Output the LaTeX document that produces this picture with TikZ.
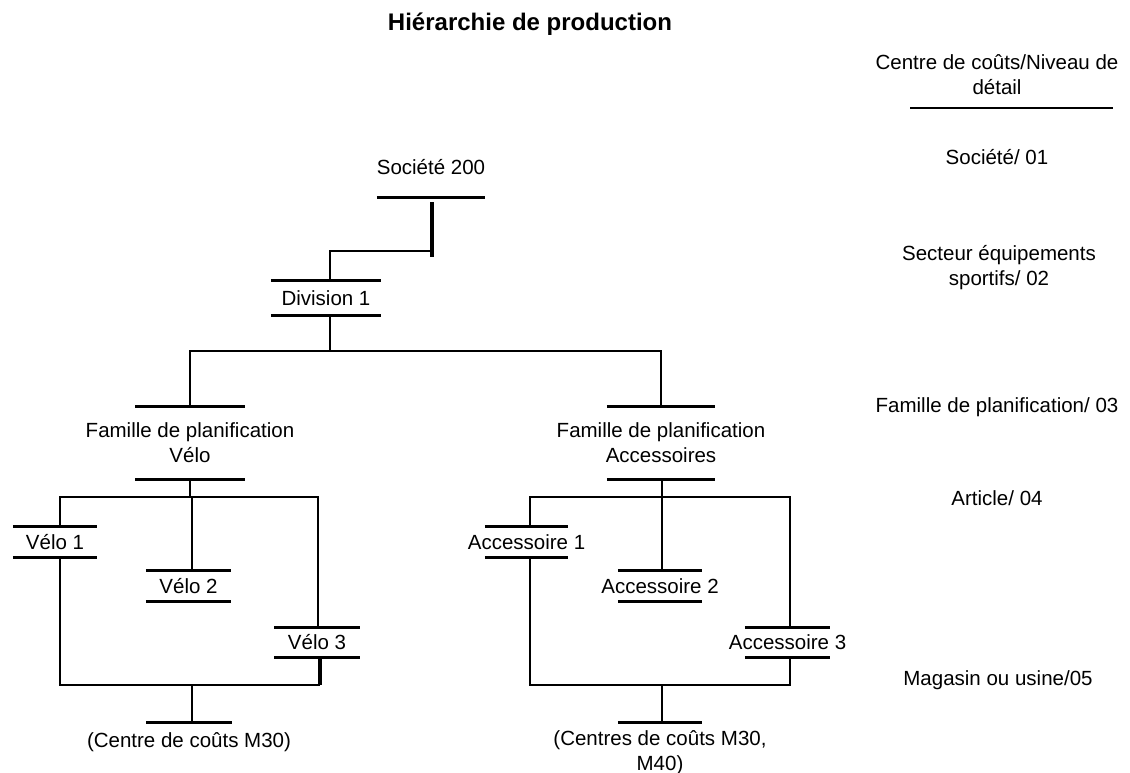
\documentclass[tikz,border=0pt]{standalone}
\usepackage{fontspec}
\setmainfont{Liberation Sans}
\usetikzlibrary{calc}
% zero-width box: the label is centred on its bars and may overhang them
\newcommand\zw[1]{\makebox[0pt]{#1}}
\begin{document}
\begin{tikzpicture}[x=1pt,y=-1pt,
  every node/.style={font=\fontsize{20.5}{25}\selectfont, inner sep=0pt, align=center},
  heading/.style={font=\fontsize{24}{28}\selectfont\bfseries},
  link/.style={line width=2.9pt},
  heavy/.style={line width=4.2pt},
  unit/.style 2 args={minimum width=#1, minimum height=#2},
  tbar/.style={append after command={(\tikzlastnode.north west) edge[link] (\tikzlastnode.north east)}},
  bbar/.style={append after command={(\tikzlastnode.south west) edge[link] (\tikzlastnode.south east)}},
]
\useasboundingbox (0,0) rectangle (1130,773);

% title
\node[heading] (title) at (530,24) {Hiérarchie de production};

% level column
\node (hdr) at (997,75) {Centre de coûts/Niveau de\\détail};
\draw[link] (910,108) -- (1113,108);
\node (lv1) at (997,157) {Société/ 01};
\node (lv2) at (999,268) {Secteur équipements\\sportifs/ 02};
\node (lv3) at (997,407) {Famille de planification/ 03};
\node (lv4) at (997,498) {Article/ 04};
\node (lv5) at (998,680) {Magasin ou usine/05};

% company and division
\node[unit={108}{60}, bbar] (soc) at (431,167) {\zw{Société 200}};
\node[unit={110}{34}, tbar, bbar] (div) at (326,298) {\zw{Division 1}};

% planning families
\node[unit={109}{72}, tbar, bbar] (fv) at (190,443) {\zw{Famille de planification}\\\zw{Vélo}};
\node[unit={108}{72}, tbar, bbar] (fa) at (661,443) {\zw{Famille de planification}\\\zw{Accessoires}};

% items
\node[unit={84}{30}, tbar, bbar] (v1) at (55,542) {\zw{Vélo 1}};
\node[unit={85}{30}, tbar, bbar] (v2) at (188.5,586) {\zw{Vélo 2}};
\node[unit={85}{29}, tbar, bbar] (v3) at (317,642.5) {\zw{Vélo 3}};
\node[unit={83}{30}, tbar, bbar] (a1) at (526.5,542) {\zw{Accessoire 1}};
\node[unit={84}{30}, tbar, bbar] (a2) at (660,586) {\zw{Accessoire 2}};
\node[unit={85}{29}, tbar, bbar] (a3) at (787.5,642.5) {\zw{Accessoire 3}};

% cost centres
\node[unit={85}{38}, tbar] (cc1) at (189,742) {\zw{(Centre de coûts M30)}};
\node[unit={84}{59}, tbar] (cc2) at (660,752.5) {\zw{(Centres de coûts M30,}\\\zw{M40)}};

% junction points of the tree
\coordinate (sj) at (432,251);
\coordinate (dj) at (330,351);
\coordinate (vj) at (191,497);
\coordinate (vb) at (192,685);
\coordinate (aj) at (662,497);
\coordinate (ab) at (662,685);

% company -> division
\draw[heavy] ($(soc.south)+(1,5)$) -- ($(sj)+(0,6)$);
\draw[link] (sj) -| ([xshift=4pt]div.north);

% division -> families
\draw[link] ([xshift=4pt]div.south) -- (dj);
\draw[link] (fv.north) -- (fv.north |- dj) -- (fa.north |- dj) -- (fa.north);

% bicycle family
\draw[link] (fv.south) -- (fv.south |- vj);
\draw[link] ([xshift=5pt]v1.north) -- ([xshift=5pt]v1.north |- vj) -- ([xshift=1pt]v3.north |- vj) -- ([xshift=1pt]v3.north);
\draw[link] ([xshift=3.5pt]v2.north) -- ([xshift=3.5pt]v2.north |- vj);
\draw[link] ([xshift=5pt]v1.south) -- ([xshift=5pt]v1.south |- vb) -- ([xshift=3pt]v3.south |- vb);
\draw[heavy] ([xshift=3pt]v3.south) -- ([xshift=3pt]v3.south |- vb);
\draw[link] (vb) -- ([xshift=3pt]cc1.north);

% accessories family
\draw[link] ([xshift=1pt]fa.south) -- (aj);
\draw[link] ([xshift=3.5pt]a1.north) -- ([xshift=3.5pt]a1.north |- aj) -- ([xshift=2.5pt]a3.north |- aj) -- ([xshift=2.5pt]a3.north);
\draw[link] ([xshift=2pt]a2.north) -- ([xshift=2pt]a2.north |- aj);
\draw[link] ([xshift=3.5pt]a1.south) -- ([xshift=3.5pt]a1.south |- ab) -- ([xshift=2.5pt]a3.south |- ab) -- ([xshift=2.5pt]a3.south);
\draw[link] (ab) -- ([xshift=2pt]cc2.north);
\end{tikzpicture}
\end{document}
